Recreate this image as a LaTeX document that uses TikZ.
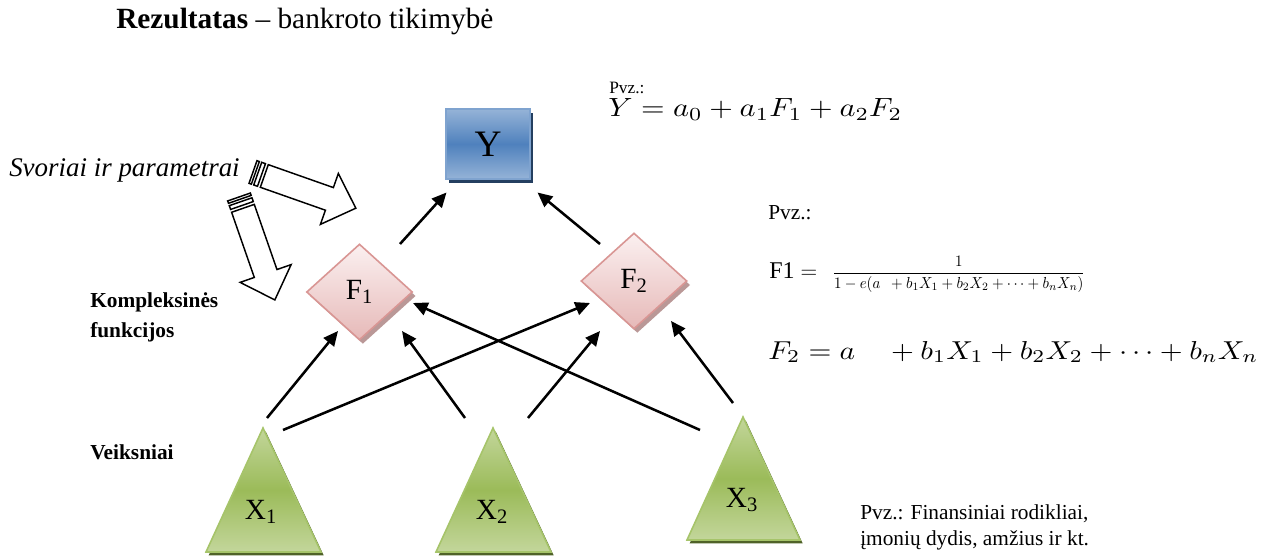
\documentclass[tikz,border=0pt]{standalone}
\usepackage{fontspec}
\setmainfont{Liberation Serif}
\usepackage{graphicx}
\usetikzlibrary{arrows.meta,shadows,shapes.geometric}
\definecolor{yblue}{HTML}{4F81BD}
\definecolor{ylight}{HTML}{95B3D7}
\definecolor{yborder}{HTML}{7FA3CF}
\definecolor{yshadow}{HTML}{243F60}
\definecolor{fpinkT}{HTML}{FBF0F0}
\definecolor{fpinkB}{HTML}{E6B9B8}
\definecolor{fborder}{HTML}{D99694}
\definecolor{fshadow}{HTML}{BA9897}
\definecolor{xgreen}{HTML}{9BBB59}
\definecolor{xlight}{HTML}{C3D69B}
\definecolor{xborder}{HTML}{A6C46A}
\definecolor{xshadow}{HTML}{4F6228}
\newcommand\myfs[1]{\fontsize{#1}{#1}\selectfont}
\newcommand\hollowarrow[2]{%
  \begin{scope}[shift={(#1)}, rotate=#2]
    \draw[harrow] (0,-12) rectangle (2.5,12);
    \draw[harrow] (5,-12) rectangle (9,12);
    \draw[harrow] (12,-12) -- (81,-12) -- (81,-27) -- (109,0) -- (81,27) -- (81,12) -- (12,12) -- cycle;
  \end{scope}}
\begin{document}
\begin{tikzpicture}[x=0.75pt,y=-0.75pt,
  conn/.style={line width=1.9pt,-{Triangle[length=11pt,width=10pt]}},
  harrow/.style={draw=black, fill=white, line width=1.1pt, line join=miter},
  ybox/.style={rectangle, draw=yborder, line width=1.5pt, top color=ylight, bottom color=ylight, middle color=yblue,
    minimum width=63pt, minimum height=52.5pt, inner sep=0pt, font=\myfs{28pt},
    drop shadow={shadow xshift=2.5pt, shadow yshift=-3pt, fill=yshadow, opacity=1}},
  fbox/.style={diamond, draw=fborder, line width=1.2pt, top color=fpinkT, bottom color=fpinkB,
    minimum width=79.5pt, minimum height=72pt, inner sep=0pt, font=\myfs{22pt},
    drop shadow={shadow xshift=2.5pt, shadow yshift=-3pt, fill=fshadow, opacity=1}},
  tri/.style={draw=xborder, line width=1.2pt, top color=xlight, bottom color=xlight, middle color=xgreen,
    drop shadow={shadow xshift=2pt, shadow yshift=-2.5pt, fill=xshadow, opacity=1}},
  xlab/.style={font=\myfs{22pt}, inner sep=0pt},
  txt/.style={anchor=base west, inner sep=0pt, font=\myfs{16pt}},
  bold/.style={txt, font=\myfs{16pt}\bfseries}
]
\useasboundingbox (0,0) rectangle (1272,556);

% header
\node[txt, font=\myfs{22pt}] (title) at (116,29) {\textbf{Rezultatas} – bankroto tikimybė};

% left labels
\node[txt, font=\myfs{20.2pt}\itshape] (sv) at (9,177) {Svoriai ir parametrai};
\node[bold] (k1) at (90,307) {Kompleksinės};
\node[bold] (k2) at (90,338) {funkcijos};
\node[bold] (vk) at (90,459) {Veiksniai};

% hollow striped arrows
\hollowarrow{253,172}{-19.4}
\hollowarrow{239,197}{-70.8}

% Y box
\node[ybox] (Y) at (488,144) {Y};

% diamonds
\node[fbox] (F1) at (359.5,292) {F\textsubscript{1}};
\node[fbox] (F2) at (634,281) {F\textsubscript{2}};

% triangles
\path[tri] (263,428) -- (321,552) -- (206,552) -- cycle;
\path[tri] (493,428) -- (551,552) -- (436,552) -- cycle;
\path[tri] (743,417) -- (800,540) -- (687,540) -- cycle;
\node[xlab] (X1) at (261,512) {X\textsubscript{1}};
\node[xlab] (X2) at (492,512) {X\textsubscript{2}};
\node[xlab] (X3) at (742,500) {X\textsubscript{3}};

% connector end points
\coordinate (f1y) at (400,244);  \coordinate (yf1) at (446.5,192.5);
\coordinate (f2y) at (600,244);  \coordinate (yf2) at (537.5,192.5);
\coordinate (x1a) at (267,418);  \coordinate (f1a) at (338,331);
\coordinate (x1b) at (283,430);  \coordinate (f2a) at (590,303);
\coordinate (x2a) at (465,418);  \coordinate (f1b) at (402,331);
\coordinate (x2b) at (528,418);  \coordinate (f2b) at (600,331);
\coordinate (x3a) at (700,430);  \coordinate (f1c) at (413,303);
\coordinate (x3b) at (733,403);  \coordinate (f2c) at (671,321);

\draw[conn] (f1y) -- (yf1);
\draw[conn] (f2y) -- (yf2);
\draw[conn] (x1a) -- (f1a);
\draw[conn] (x1b) -- (f2a);
\draw[conn] (x2a) -- (f1b);
\draw[conn] (x2b) -- (f2b);
\draw[conn] (x3a) -- (f1c);
\draw[conn] (x3b) -- (f2c);

% formulas
\node[txt, font=\myfs{13pt}] (pvz1) at (609,94) {Pvz.:};
\node[anchor=base west, inner sep=0pt] (eqY) at (608,117) {\resizebox{220.5pt}{13.5pt}{$Y = a_0 + a_1F_1 + a_2F_2$}};
\node[txt] (pvz2) at (768,220) {Pvz.:};
\node[txt, font=\myfs{18pt}] (eqF1a) at (769,279) {F1 $=$};
\node[anchor=west, inner sep=0pt] (eqF1b) at (832,274) {\resizebox*{189.75pt}{27pt}{$\displaystyle\frac{1}{1-e(a\ \ +b_1X_1+b_2X_2+\cdots+b_nX_n)}$}};
\node[anchor=base west, inner sep=0pt] (eqF2) at (768,359) {\resizebox{367.5pt}{13.5pt}{$F_2 = a\quad + b_1X_1 + b_2X_2 + \cdots + b_nX_n$}};

% example text
\node[txt] (ex1) at (860,519) {Pvz.: Finansiniai rodikliai,};
\node[txt] (ex2) at (860,545) {įmonių dydis, amžius ir kt.};
\end{tikzpicture}
\end{document}
